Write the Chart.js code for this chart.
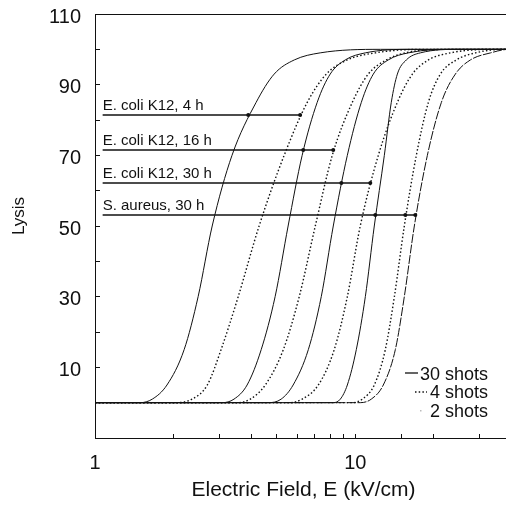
<!DOCTYPE html>
<html>
<head>
<meta charset="utf-8">
<script src="https://cdn.jsdelivr.net/npm/chart.js@4.4.1/dist/chart.umd.min.js"></script>
<style>
  html, body { margin: 0; padding: 0; background: #fff; overflow: hidden; }
</style>
</head>
<body>
<canvas id="lysisChart" width="512" height="511"></canvas>
<script>
// lysis levels (%) at which the field E (kV/cm) of each curve was read
const lysisLevels = [0, 0, 1, 5, 15, 30, 50, 70, 85, 93, 97, 99, 100, 100];
// E. coli K12, 4 h
const ec4h30E = [1, 1.49, 1.66, 1.89, 2.20, 2.49, 2.82, 3.36, 4.16, 4.88, 5.83, 7.33, 12.5, 40];
const ec4h4E = [1, 2.03, 2.36, 2.70, 3.05, 3.55, 4.27, 5.33, 6.54, 7.74, 9.32, 11.94, 17.8, 40];
// E. coli K12, 16 h
const ec16h30E = [1, 3.08, 3.42, 3.84, 4.35, 4.92, 5.52, 6.25, 7.14, 8.01, 9.15, 10.93, 16.3, 40];
const ec16h4E = [1, 3.55, 3.95, 4.51, 5.29, 6.09, 7.02, 8.16, 9.74, 11.22, 13.16, 15.57, 23.2, 40];
// E. coli K12, 30 h
const ec30h30E = [1, 4.63, 5.19, 5.77, 6.60, 7.40, 8.23, 9.32, 10.55, 11.73, 13.39, 15.99, 23.2, 40];
const ec30h4E = [1, 5.62, 6.25, 7.21, 8.30, 9.32, 10.45, 12.26, 14.51, 16.57, 19.09, 23.2, 33.1, 40];
// S. aureus, 30 h
const sa30h30E = [1, 8.23, 8.76, 9.32, 10.09, 10.93, 11.83, 12.93, 13.75, 14.51, 15.71, 17.78, 25.3, 40];
const sa30h4E = [1, 9.74, 10.64, 11.83, 13.04, 14.13, 15.43, 17.16, 19.09, 21.23, 24.46, 28.94, 37.7, 40];
const sa30h2E = [1, 10.45, 11.52, 12.81, 14.25, 15.43, 16.86, 18.92, 21.42, 24.24, 27.69, 33.1, 39, 40];

// marker lines with their labels
const markerLabels = ['E. coli K12, 4 h', 'E. coli K12, 16 h', 'E. coli K12, 30 h', 'S. aureus, 30 h'];
const markerLysis = [81.4, 71.5, 62.2, 53.1];
const markerStartE = 1.07;
const markerDotsE = [[3.88, 6.14], [6.31, 8.23], [8.84, 11.42], [11.94, 15.57, 17.01]];

const legendLabels = ['30 shots', '4 shots', '2 shots'];
const xTickLabels = [1, 10];
const yTickLabels = [10, 30, 50, 70, 90, 110];

const INK = '#111';
const DOTTED = [1.5, 2.2];
const FONT = '"Liberation Sans", Arial, sans-serif';

function toPoints(xs, ys) {
    return xs.map((x, i) => ({ x: x, y: ys[i] }));
}

const curves = [
    { e: ec4h30E, dash: [] },
    { e: ec4h4E, dash: DOTTED },
    { e: ec16h30E, dash: [] },
    { e: ec16h4E, dash: DOTTED },
    { e: ec30h30E, dash: [] },
    { e: ec30h4E, dash: DOTTED },
    { e: sa30h30E, dash: [] },
    { e: sa30h4E, dash: DOTTED },
    { e: sa30h2E, dash: [9, 1.5] }
];

const datasets = curves.map(c => ({
    data: toPoints(c.e, lysisLevels),
    borderColor: INK,
    borderWidth: c.dash === DOTTED ? 1.4 : 1,
    borderDash: c.dash,
    pointRadius: 0,
    cubicInterpolationMode: 'monotone',
    fill: false
}));

markerLysis.forEach((v, i) => {
    const xs = [markerStartE].concat(markerDotsE[i]);
    datasets.push({
        data: toPoints(xs, xs.map(() => v)),
        borderColor: INK,
        borderWidth: 1.5,
        pointRadius: ctx => ctx.dataIndex === 0 ? 0 : 2,
        pointBackgroundColor: INK,
        pointBorderWidth: 0,
        fill: false
    });
});

// labels over the marker lines, the top frame, the y title and the line-style key
const annotations = {
    id: 'annotations',
    afterDatasetsDraw(chart) {
        const { ctx, chartArea, scales: { x, y } } = chart;
        ctx.save();
        ctx.strokeStyle = INK;
        ctx.lineWidth = 1;
        ctx.beginPath();
        ctx.moveTo(chartArea.left, chartArea.top + 0.5);
        ctx.lineTo(chartArea.right, chartArea.top + 0.5);
        ctx.stroke();

        ctx.fillStyle = INK;
        ctx.textBaseline = 'alphabetic';
        ctx.textAlign = 'left';
        ctx.font = '15px ' + FONT;
        markerLabels.forEach((t, i) => {
            ctx.fillText(t, x.getPixelForValue(markerStartE), y.getPixelForValue(markerLysis[i]) - 5);
        });

        ctx.font = '18px ' + FONT;
        ctx.lineWidth = 1.3;
        ctx.beginPath();
        ctx.moveTo(405, 373);
        ctx.lineTo(418, 373);
        ctx.stroke();
        ctx.fillText(legendLabels[0], 420, 380);

        ctx.setLineDash(DOTTED);
        ctx.beginPath();
        ctx.moveTo(415, 392);
        ctx.lineTo(427, 392);
        ctx.stroke();
        ctx.setLineDash([]);
        ctx.fillText(legendLabels[1], 430, 398);

        ctx.fillStyle = '#bbb';
        ctx.fillRect(420, 410, 1.5, 1.5);
        ctx.fillStyle = INK;
        ctx.fillText(legendLabels[2], 430, 417);

        ctx.translate(19, 216);
        ctx.rotate(-Math.PI / 2);
        ctx.textAlign = 'center';
        ctx.textBaseline = 'middle';
        ctx.font = '17px ' + FONT;
        ctx.fillText('Lysis', 0, 0);
        ctx.restore();
    }
};

const ctx = document.getElementById('lysisChart').getContext('2d');
new Chart(ctx, {
    type: 'line',
    data: { datasets: datasets },
    plugins: [annotations],
    options: {
        responsive: false,
        animation: false,
        devicePixelRatio: 1,
        layout: { autoPadding: false, padding: { top: 14, left: 0, right: 0, bottom: 0 } },
        plugins: { legend: { display: false }, tooltip: { enabled: false } },
        scales: {
            x: {
                type: 'logarithmic',
                min: 1,
                max: 40,
                afterFit: scale => {
                    scale.height = 73;
                    scale.paddingLeft = 0;
                    scale.paddingRight = 0;
                },
                border: { display: true, color: INK, width: 1 },
                grid: { drawOnChartArea: false, drawTicks: true, tickLength: -4, color: INK },
                ticks: {
                    autoSkip: false,
                    maxRotation: 0,
                    padding: 17,
                    color: INK,
                    font: { family: FONT, size: 20 },
                    callback: v => xTickLabels.includes(v) ? String(v) : ''
                },
                title: {
                    display: true,
                    text: 'Electric Field, E (kV/cm)',
                    color: INK,
                    padding: { top: 0, bottom: 8 },
                    font: { family: FONT, size: 21 }
                }
            },
            y: {
                min: -10,
                max: 110,
                afterFit: scale => {
                    scale.width = 95;
                    scale.paddingTop = 0;
                    scale.paddingBottom = 0;
                },
                border: { display: true, color: INK, width: 1 },
                grid: { drawOnChartArea: false, drawTicks: true, tickLength: -5, color: INK },
                ticks: {
                    stepSize: 10,
                    padding: 19,
                    labelOffset: 3,
                    color: INK,
                    font: { family: FONT, size: 20 },
                    callback: v => yTickLabels.includes(v) ? String(v) : ''
                }
            }
        }
    }
});
</script>
</body>
</html>
